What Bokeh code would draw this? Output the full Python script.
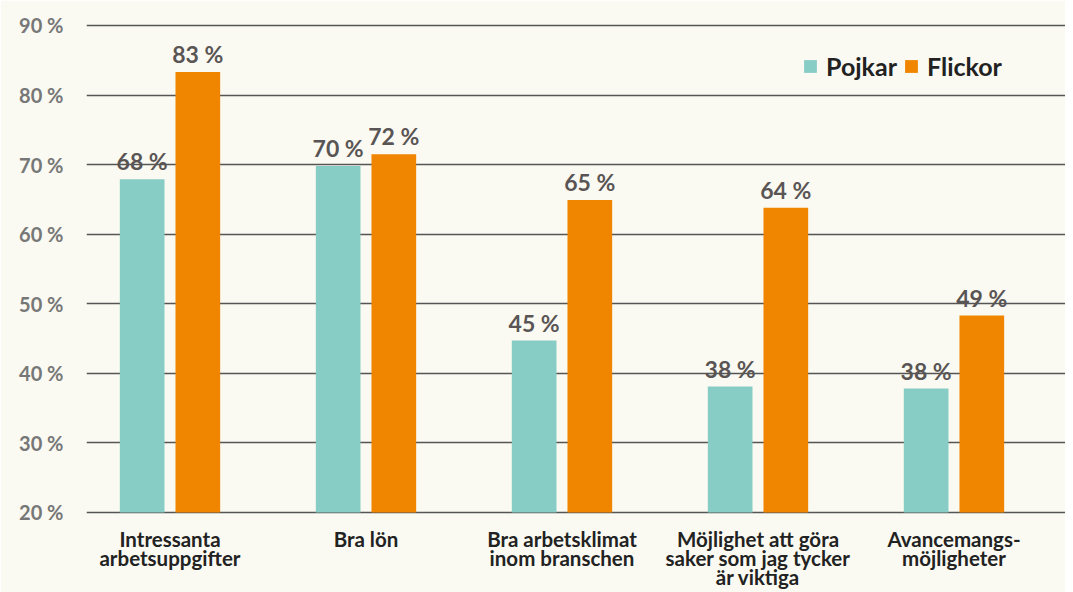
from bokeh.plotting import figure
from bokeh.models import ColumnDataSource, FixedTicker, LabelSet, Legend, LegendItem, Range1d
from bokeh.core.properties import value
from bokeh.transform import dodge
from bokeh.embed import file_html
from bokeh.resources import INLINE

categories = [
    "Intressanta\narbetsuppgifter",
    "Bra lön",
    "Bra arbetsklimat\ninom branschen",
    "Möjlighet att göra\nsaker som jag tycker\när viktiga",
    "Avancemangs-\nmöjligheter",
]
pojkar = [67.9, 69.8, 44.7, 38.1, 37.8]
flickor = [83.3, 71.5, 64.9, 63.8, 48.3]
pojkar_labels = ["68 %", "70 %", "45 %", "38 %", "38 %"]
flickor_labels = ["83 %", "72 %", "65 %", "64 %", "49 %"]
y_ticks = [20, 30, 40, 50, 60, 70, 80, 90]
y_tick_labels = [f"{t} %" for t in y_ticks]

BG = "#FAFAF2"
TEAL = "#88CCC6"
ORANGE = "#F08500"
FONT = "Lato"

idx = list(range(len(categories)))
src = ColumnDataSource(dict(x=idx, pojkar=pojkar, flickor=flickor,
                            pl=pojkar_labels, fl=flickor_labels))

p = figure(width=1065, height=592, output_backend="svg", toolbar_location=None,
           x_range=Range1d(-0.426, 4.569), y_range=Range1d(19.7, 91),
           min_border_left=86, min_border_right=0, min_border_top=18, min_border_bottom=60)
p.background_fill_color = BG
p.border_fill_color = BG
p.outline_line_color = None

bw = 0.228
off = 0.142
r1 = p.vbar(x=dodge("x", -off), top="pojkar", bottom=20, width=bw, source=src,
            fill_color=TEAL, line_color=None)
r2 = p.vbar(x=dodge("x", off), top="flickor", bottom=20, width=bw, source=src,
            fill_color=ORANGE, line_color=None)

for col, lab, o in (("pojkar", "pl", -off), ("flickor", "fl", off)):
    ls = LabelSet(x=dodge("x", o), y=col, text=lab, source=src,
                  text_align="center", text_baseline="alphabetic", y_offset=9,
                  text_font=value(FONT), text_font_style="bold", text_font_size="23px",
                  text_color="#5a5555")
    p.add_layout(ls)

# grid
p.xgrid.grid_line_color = None
p.ygrid.grid_line_color = "#555555"
p.ygrid.grid_line_width = 1.6
p.ygrid.ticker = FixedTicker(ticks=y_ticks)

# y axis
p.yaxis.ticker = FixedTicker(ticks=y_ticks)
p.yaxis.major_label_overrides = {t: l for t, l in zip(y_ticks, y_tick_labels)}
p.yaxis.major_label_text_font = FONT
p.yaxis.major_label_text_font_style = "bold"
p.yaxis.major_label_text_font_size = "20px"
p.yaxis.major_label_text_color = "#777777"
p.yaxis.major_label_standoff = 23
p.yaxis.major_tick_out = 0
p.yaxis.major_tick_in = 0
p.yaxis.axis_line_color = None
p.yaxis.major_tick_line_color = None
p.yaxis.minor_tick_line_color = None

# x axis
p.xaxis.ticker = FixedTicker(ticks=idx)
p.xaxis.major_label_overrides = {i: c for i, c in zip(idx, categories)}
p.xaxis.major_label_text_font = FONT
p.xaxis.major_label_text_font_style = "bold"
p.xaxis.major_label_text_font_size = "20.5px"
p.xaxis.major_label_text_color = "#222222"
p.xaxis.major_label_text_line_height = 0.81
p.xaxis.major_label_standoff = 12
p.xaxis.major_tick_out = 0
p.xaxis.major_tick_in = 0
p.xaxis.axis_line_color = None
p.xaxis.major_tick_line_color = None
p.xaxis.minor_tick_line_color = None

legend = Legend(items=[LegendItem(label="Pojkar", renderers=[r1]),
                       LegendItem(label="Flickor", renderers=[r2])],
                orientation="horizontal", location=(716, 433),
                glyph_width=16, glyph_height=16, label_standoff=8, spacing=6,
                padding=0, margin=0, border_line_color=None, background_fill_alpha=0,
                label_text_font=FONT, label_text_font_style="bold",
                label_text_font_size="25px", label_text_color="#222222")
p.add_layout(legend)

open("out.html", "w").write(file_html(p, INLINE))
